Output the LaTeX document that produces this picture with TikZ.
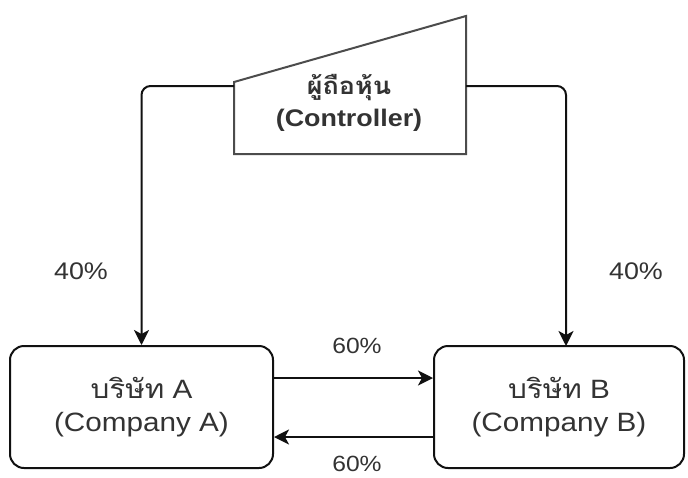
\documentclass[tikz,border=0pt]{standalone}
\usepackage{fontspec}
\setmainfont{Liberation Sans}[FakeStretch=1.12]
\newfontfamily\thai[Script=Thai,FakeStretch=1.12]{Loma}
\usetikzlibrary{arrows.meta}
\definecolor{txt}{HTML}{333333}
\definecolor{edge}{HTML}{111111}
\tikzset{
  company/.style={draw=edge, line width=2pt, rounded corners=14pt, align=center,
    text=txt, font=\fontsize{26.5}{33}\selectfont, inner sep=0pt},
  conn/.style={draw=edge, line width=2pt, -{Stealth[length=15pt,width=15pt,inset=4pt]}},
  pct/.style={text=txt, inner sep=0pt}
}
\begin{document}
\begin{tikzpicture}[x=1pt,y=-1pt]
\useasboundingbox[fill=white] (0,0) rectangle (688,477);
% controller (manual input shape)
\draw[draw=black!70, line width=2pt, fill=white] (234,82) -- (466,16) -- (466,154) -- (234,154) -- cycle;
\node[align=center, text=txt, font=\bfseries\fontsize{24}{32}\selectfont, inner sep=0pt] (ctrl) at (349,103)
  {{\thai\bfseries ผู้ถือหุ้น}\\(Controller)};
\coordinate (ctrlL) at (234,86);
\coordinate (ctrlR) at (466,86);
% companies
\node[company, minimum width=263pt, minimum height=122pt] (A) at (141.5,407) {{\thai บริษัท} A\\(Company A)};
\node[company, minimum width=250pt, minimum height=122pt] (B) at (559,407) {{\thai บริษัท} B\\(Company B)};
\coordinate (Bin) at (566,346);
% connectors
\draw[conn, rounded corners=9pt] (ctrlL) -| (A.north);
\draw[conn, rounded corners=9pt] (ctrlR) -| (Bin);
\draw[conn] (A.east |- 0,378) -- (B.west |- 0,378);
\draw[conn] (B.west |- 0,437) -- (A.east |- 0,437);
% labels
\node[pct, font=\fontsize{24}{28}\selectfont] (l1) at (81,271) {40\%};
\node[pct, font=\fontsize{24}{28}\selectfont] (l2) at (636,271) {40\%};
\node[pct, font=\fontsize{22}{26}\selectfont] (l3) at (357,346) {60\%};
\node[pct, font=\fontsize{22}{26}\selectfont] (l4) at (357,464) {60\%};
\end{tikzpicture}
\end{document}
